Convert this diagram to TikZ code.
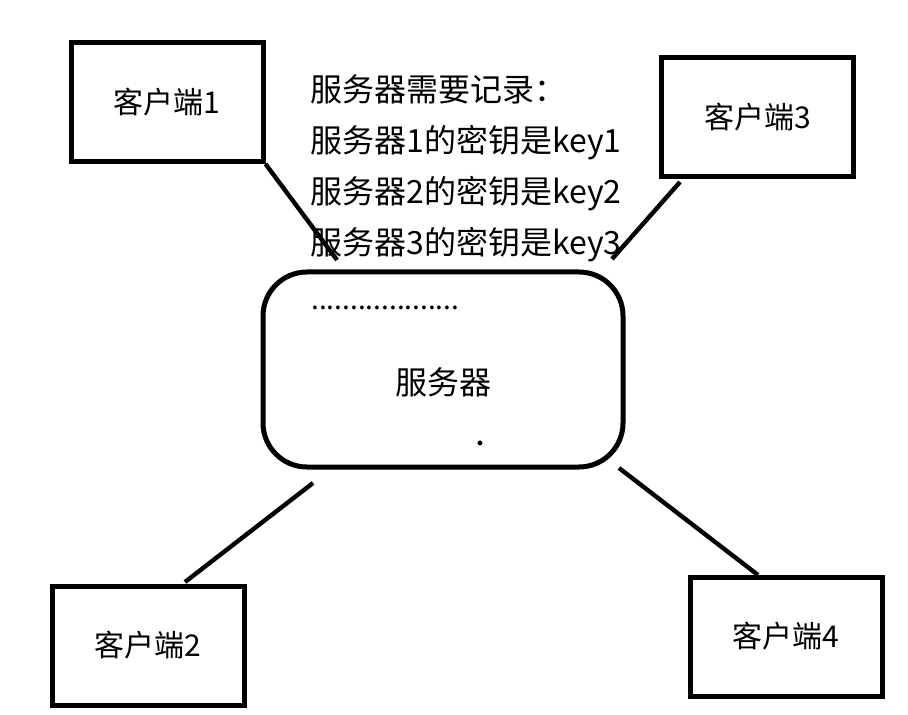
\documentclass[tikz,border=0pt]{standalone}
\usepackage{fontspec}
\setmainfont{Noto Sans CJK SC}
\usetikzlibrary{positioning}
\tikzset{client/.style={draw, line width=2.5pt, minimum width=96pt, minimum height=59.5pt,
    font=\fontsize{15pt}{18pt}\selectfont},
  server/.style={draw, line width=2.5pt, rounded corners=22pt, minimum width=180pt,
    minimum height=97.5pt, font=\fontsize{16pt}{19pt}\selectfont},
  link/.style={line width=2.2pt}}

\begin{document}
\begin{tikzpicture}[x=0.5pt,y=-0.5pt]
  \useasboundingbox (0,0) rectangle (908,715);

  % Nodes
  \node[server, text height=25pt, text depth=0pt] (srv) at (443,369.5) {服务器};
  \node[client]                (c1)    at (167,102)   {客户端1};
  \node[client]                (c3)    at (757.5,117) {客户端3};
  \node[client]                (c2)    at (148,645.5) {客户端2};
  \node[client]                (c4)    at (786,636.5) {客户端4};
  \node[anchor=west, align=left, inner sep=0pt,
    font=\fontsize{16pt}{25.5pt}\selectfont] (keys) at (310,168.5)
    {服务器需要记录：\\服务器1的密钥是key1\\服务器2的密钥是key2\\服务器3的密钥是key3};
  \node[anchor=west, inner sep=0pt, font=\fontsize{14pt}{17pt}\selectfont] (more) at (311,308)
    {...................};
  \node[inner sep=0pt, font=\fontsize{18pt}{20pt}\selectfont] (dot) at (480,443) {.};

  % Edges
  \coordinate (k1) at (337,260);
  \coordinate (k3a) at (680,182);
  \coordinate (k3) at (612,259);
  \coordinate (k2) at (313,483);
  \coordinate (k2b) at (185,582);
  \coordinate (k4) at (619,468);
  \coordinate (k4b) at (758,575);
  \draw[link] (c1.south east) -- (k1);
  \draw[link] (k3a) -- (k3);
  \draw[link] (k2) -- (k2b);
  \draw[link] (k4) -- (k4b);

\end{tikzpicture}
\end{document}
